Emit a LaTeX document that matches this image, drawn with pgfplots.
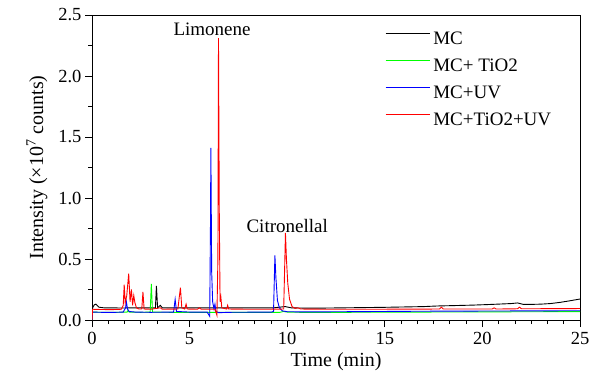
\documentclass[border=0pt]{standalone}
\usepackage{pgfplots}
\pgfplotsset{compat=1.18}
\usepackage{fontspec}
\setmainfont{Liberation Serif}
\begin{document}
\begin{tikzpicture}
\begin{axis}[
  scale only axis,
  width=488pt, height=305pt,
  xmin=0, xmax=25, ymin=0, ymax=2.5,
  xtick={0,5,...,25}, ytick={0,0.5,...,2.5},
  minor x tick num=5, minor y tick num=1,
  xtick pos=left, ytick pos=left,
  tick align=outside,
  major tick length=7pt, minor tick length=4pt,
  every tick/.style={black, line width=0.8pt},
  axis line style={line width=0.9pt},
  /pgf/number format/assume math mode=true,
  yticklabel style={/pgf/number format/.cd, fixed, fixed zerofill, precision=1},
  xticklabel style={yshift=-2pt},
  tick label style={font=\fontsize{18.5}{18.5}\selectfont},
  label style={font=\fontsize{20}{20}\selectfont},
  xlabel={Time (min)},
  ylabel={Intensity (×10\textsuperscript{7} counts)},
  xlabel style={yshift=-1pt},
  ylabel style={yshift=4pt},
  legend style={at={(rel axis cs:0.6,0.945)}, anchor=north west, draw=none, fill=none,
    font=\fontsize{19}{19}\selectfont, inner sep=0pt,
    nodes={inner xsep=3pt, inner ysep=0pt},
    row sep=13pt},
  legend cell align=left,
  legend image code/.code={\draw[#1, line width=1.3pt] (0pt,5.5pt) -- (44pt,5.5pt);},
  every axis plot/.append style={line width=0.9pt},
]
% MC (black)
\addplot[color=black] coordinates {
(0,0.0)(0.03,0.10)(0.12,0.125)(0.2,0.13)(0.35,0.105)(0.6,0.1)(1.0,0.1)(1.5,0.098)(2.0,0.1)(2.5,0.1)
(3.25,0.1)(3.3,0.28)(3.36,0.1)(3.5,0.12)(3.6,0.1)(4.5,0.1)(5.5,0.1)(6.1,0.1)(6.5,0.1)(7,0.1)(8,0.1)(9.3,0.1)
(9.9,0.11)(10.2,0.1)(11,0.097)(12,0.098)(13,0.1)(14,0.102)(15,0.104)(16,0.107)(17,0.11)(17.7,0.115)
(18.5,0.118)(19.5,0.122)(20.5,0.128)(21.5,0.135)(21.8,0.14)(22.1,0.128)(22.5,0.128)(23,0.13)(23.5,0.135)(24,0.145)(24.5,0.158)(25,0.172)
};
\addlegendentry{MC}
% MC + TiO2 (green)
\addplot[color=green] coordinates {
(0,0.0)(0.03,0.065)(0.5,0.063)(1.0,0.062)(1.8,0.065)(1.85,0.08)(1.9,0.065)(2.5,0.063)
(2.98,0.065)(3.04,0.295)(3.1,0.065)(4,0.063)(5,0.063)(6,0.062)(7,0.062)(8,0.062)(9,0.062)
(9.6,0.062)(9.8,0.07)(10.0,0.065)(11,0.062)(13,0.063)(15,0.064)(17,0.065)(19,0.066)(21,0.067)(23,0.068)(25,0.069)
};
\addlegendentry{MC+ TiO2}
% MC + UV (blue)
\addplot[color=blue] coordinates {
(0,0.0)(0.03,0.065)(0.5,0.063)(1.0,0.062)(1.6,0.065)(1.72,0.1)(1.76,0.15)(1.82,0.09)(1.9,0.07)(2.2,0.065)
(3,0.063)(4.18,0.065)(4.26,0.17)(4.33,0.07)(5,0.065)(5.9,0.065)(6.03,0.03)(6.07,0.8)(6.09,1.41)(6.13,0.4)(6.18,0.15)
(6.25,0.09)(6.3,0.13)(6.35,0.07)(6.5,0.06)(7,0.063)(8,0.064)(9.2,0.065)(9.3,0.07)(9.37,0.53)(9.42,0.35)(9.5,0.16)
(9.6,0.1)(9.75,0.075)(10,0.068)(11,0.066)(13,0.068)(15,0.07)(17,0.072)(19,0.073)(21,0.074)(23,0.075)(25,0.076)
};
\addlegendentry{MC+UV}
% MC + TiO2 + UV (red)
\addplot[color=red] coordinates {
(0,0.0)(0.03,0.088)(0.5,0.086)(1.0,0.085)(1.5,0.088)(1.6,0.12)(1.65,0.29)(1.7,0.14)(1.78,0.2)(1.88,0.38)(1.95,0.15)
(2.02,0.25)(2.08,0.12)(2.14,0.2)(2.2,0.14)(2.28,0.1)(2.4,0.09)(2.55,0.09)(2.61,0.23)(2.67,0.09)(3.0,0.088)
(3.5,0.1)(3.6,0.088)(4.4,0.09)(4.48,0.2)(4.53,0.265)(4.6,0.1)(4.75,0.09)(4.82,0.13)(4.88,0.09)(5.4,0.088)(5.5,0.1)(5.6,0.088)
(6.3,0.088)(6.4,0.04)(6.45,0.5)(6.48,2.31)(6.52,0.9)(6.56,0.15)(6.6,0.19)(6.65,0.1)(6.9,0.09)(6.95,0.12)(7.0,0.09)
(8,0.088)(9.0,0.088)(9.82,0.09)(9.88,0.5)(9.91,0.715)(9.96,0.5)(10.03,0.3)(10.12,0.17)(10.25,0.11)(10.4,0.095)(10.55,0.1)(10.7,0.09)
(12,0.088)(14,0.088)(16,0.089)(17.8,0.09)(17.9,0.105)(18.0,0.09)(20.5,0.09)(20.6,0.1)(20.7,0.09)(21.8,0.092)(21.9,0.105)(22.0,0.092)(23.5,0.093)(25,0.094)
};
\addlegendentry{MC+TiO2+UV}
\node[font=\fontsize{19}{19}\selectfont] at (axis cs:6.15,2.38) {Limonene};
\node[font=\fontsize{19}{19}\selectfont] at (axis cs:10.0,0.77) {Citronellal};
\coordinate (ll) at (rel axis cs:0,0);
\coordinate (ur) at (rel axis cs:1,1);
\end{axis}
\path (ll) ++(-92pt,-60pt) coordinate (a);
\path (ur) ++(18pt,15pt) coordinate (b);
\pgfresetboundingbox
\path[use as bounding box] (a) rectangle (b);
\end{tikzpicture}
\end{document}
